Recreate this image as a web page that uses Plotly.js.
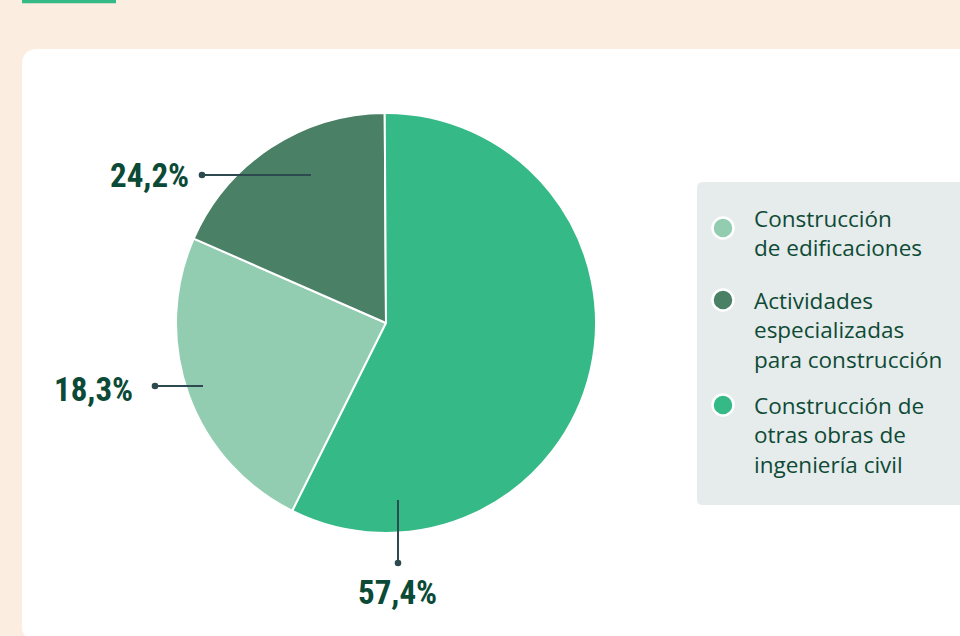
<!DOCTYPE html>
<html>
<head>
<meta charset="utf-8">
<script src="https://cdn.plot.ly/plotly-3.0.1.min.js"></script>
<style>
  html, body { margin: 0; padding: 0; background: #fcede1; }
  #chart { width: 960px; height: 636px; }
</style>
</head>
<body>
<div id="chart"></div>
<script>
// ---- data ----
var categories = [
  "Construcción<br>de edificaciones",
  "Actividades<br>especializadas<br>para construcción",
  "Construcción de<br>otras obras de<br>ingeniería civil"
];
var sliceShares = [24.2, 18.3, 57.4];          // slice sizes as drawn (%)
var printedLabels = ["18,3%", "24,2%", "57,4%"]; // callout texts as printed
var sliceColors = ["#92cdb1", "#4a8065", "#34b987"];

// ---- helpers: pixel -> paper ----
var W = 960, H = 636;
function px(x) { return x / W; }
function py(y) { return 1 - y / H; }

var cx = 386, cy = 323, R = 210;

var shapes = [];
var annotations = [];

// white card with rounded corners
function P(x, y) { return px(x) + "," + py(y); }
shapes.push({
  type: "path", xref: "paper", yref: "paper", layer: "below",
  path: "M " + P(22, 65) + " Q " + P(22, 49) + " " + P(38, 49) +
        " L " + P(975, 49) + " L " + P(975, 640) + " L " + P(36, 640) +
        " Q " + P(22, 640) + " " + P(22, 626) + " Z",
  fillcolor: "#ffffff", line: { width: 0 }
});
// green accent bar at top
shapes.push({
  type: "rect", xref: "paper", yref: "paper", layer: "below",
  x0: px(22), x1: px(116), y0: py(0), y1: py(3.3),
  fillcolor: "#34b987", line: { width: 0 }
});
// legend box
shapes.push({
  type: "path", xref: "paper", yref: "paper", layer: "below",
  path: "M " + P(697, 188) + " Q " + P(697, 182) + " " + P(703, 182) +
        " L " + P(975, 182) + " L " + P(975, 505) + " L " + P(703, 505) +
        " Q " + P(697, 505) + " " + P(697, 499) + " Z",
  fillcolor: "#e5eceb", line: { width: 0 }
});

// legend items
var legendMarkerY = [228, 300, 405];
var legendTextTop = [202, 284, 389];
for (var i = 0; i < categories.length; i++) {
  var r = 10.5;
  shapes.push({
    type: "circle", xref: "paper", yref: "paper", layer: "above",
    x0: px(723 - r), x1: px(723 + r), y0: py(legendMarkerY[i] + r), y1: py(legendMarkerY[i] - r),
    fillcolor: sliceColors[i], line: { color: "#ffffff", width: 2.5 }
  });
  annotations.push({
    xref: "paper", yref: "paper", x: px(753), y: py(legendTextTop[i]),
    xanchor: "left", yanchor: "top", align: "left", showarrow: false,
    text: categories[i], borderpad: 0,
    font: { family: "Open Sans, Noto Sans, sans-serif", size: 22.5, color: "#0f4a36" }
  });
}

// callouts
var callouts = [
  { slice: 0, dot: [155, 386], end: [203, 386], tx: 135, ty: 389, xa: "right" },
  { slice: 1, dot: [202, 175], end: [311, 175], tx: 191, ty: 175, xa: "right" },
  { slice: 2, dot: [398, 563], end: [398, 500], tx: 397, ty: 592, xa: "center" }
];
callouts.forEach(function (c) {
  shapes.push({
    type: "line", xref: "paper", yref: "paper", layer: "above",
    x0: px(c.dot[0]), y0: py(c.dot[1]), x1: px(c.end[0]), y1: py(c.end[1]),
    line: { color: "#2d4a4e", width: 2 }
  });
  var d = 3.3;
  shapes.push({
    type: "circle", xref: "paper", yref: "paper", layer: "above",
    x0: px(c.dot[0] - d), x1: px(c.dot[0] + d), y0: py(c.dot[1] + d), y1: py(c.dot[1] - d),
    fillcolor: "#2d4a4e", line: { width: 0 }
  });
  annotations.push({
    xref: "paper", yref: "paper", x: px(c.tx), y: py(c.ty),
    xanchor: c.xa, yanchor: "middle", showarrow: false,
    text: "<b>" + printedLabels[c.slice] + "</b>",
    font: { family: "Liberation Sans Narrow, Roboto Condensed, DejaVu Sans Condensed, sans-serif", size: 33, color: "#0b4a36" }
  });
});

var trace = {
  type: "pie",
  labels: categories,
  values: sliceShares,
  sort: false,
  direction: "clockwise",
  rotation: 206.5,
  textinfo: "none",
  hoverinfo: "label+percent",
  showlegend: false,
  marker: { colors: sliceColors, line: { color: "#ffffff", width: 2 } },
  domain: { x: [px(cx - R), px(cx + R)], y: [py(cy + R), py(cy - R)] }
};

var layout = {
  width: W, height: H,
  margin: { l: 0, r: 0, t: 0, b: 0 },
  paper_bgcolor: "#fcede1",
  plot_bgcolor: "rgba(0,0,0,0)",
  showlegend: false,
  shapes: shapes,
  annotations: annotations
};

Plotly.newPlot("chart", [trace], layout, { displayModeBar: false, staticPlot: true });
</script>
</body>
</html>
